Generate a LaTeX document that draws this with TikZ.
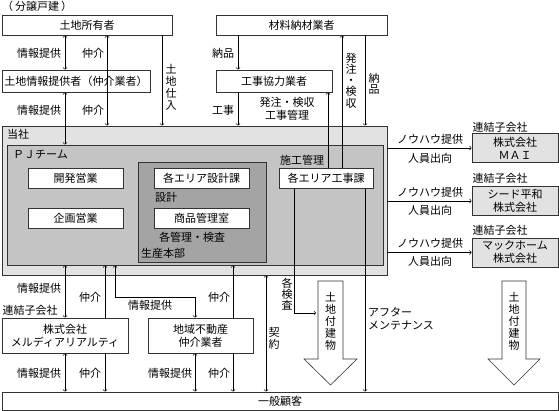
\documentclass[tikz,border=0pt]{standalone}
\usepackage{fontspec}
\setmainfont{Noto Sans CJK JP}
\definecolor{shagray}{HTML}{E2E2E2}
\definecolor{pjgray}{HTML}{C4C4C4}
\definecolor{honbugray}{HTML}{A4A4A4}

\begin{document}
\begin{tikzpicture}[x=1pt, y=-1pt,
        font=\fontsize{11}{13}\selectfont,
        box/.style={rectangle, draw=black!80, line width=0.8pt, fill=white, inner sep=0pt, align=center},
        lbl/.style={inner sep=0pt, align=center},
        vlbl/.style={inner sep=0pt, align=center, font=\fontsize{11}{12}\selectfont},
        conn/.style={line width=0.6pt}]
    \useasboundingbox (0,0) rectangle (559,411);

    % top row
    \node[lbl, anchor=north west] (bunjo) at (2,1) {（\hspace{2pt}分譲戸建\hspace{2pt}）};
    \node[box, minimum width=170pt, minimum height=20pt] (owner) at (87,25) {土地所有者};
    \node[box, minimum width=148pt, minimum height=22pt] (infoprov) at (76,81) {土地情報提供者（仲介業者）};
    \node[box, minimum width=171pt, minimum height=20pt] (zairyo) at (301.5,25) {材料納材業者};
    \node[box, minimum width=116pt, minimum height=22pt] (kyoryoku) at (274,81) {工事協力業者};

    % company
    \node[box, fill=shagray, minimum width=385pt, minimum height=149pt] (tousha) at (194.5,200.5) {};
    \node[box, fill=pjgray, minimum width=376pt, minimum height=120pt] (pj) at (195,205) {};
    \node[box, fill=honbugray, minimum width=128pt, minimum height=100pt] (seisan) at (202,212) {};
    \node[lbl, anchor=west] (toushalbl) at (7,134) {当社};
    \node[lbl, anchor=west] (pjlbl) at (13,155) {ＰＪチーム};
    \node[lbl, anchor=west] (seisanlbl) at (141,253) {生産本部};
    \node[box, minimum width=95pt, minimum height=20pt] (kaihatsu) at (75.5,178) {開発営業};
    \node[box, minimum width=95pt, minimum height=20pt] (kikaku) at (75.5,218) {企画営業};
    \node[box, minimum width=95pt, minimum height=20pt] (sekkei) at (201.5,178) {各エリア設計課};
    \node[box, minimum width=95pt, minimum height=20pt] (shohin) at (201.5,218) {商品管理室};
    \node[lbl] (sekkeilbl) at (166,197) {設計};
    \node[lbl] (kanrilbl) at (192,237) {各管理・検査};
    \node[lbl] (sekolbl) at (302,160) {施工管理};
    \node[box, minimum width=94pt, minimum height=20pt] (koujika) at (326,178.5) {各エリア工事課};

    % subsidiaries
    \node[box, fill=shagray, minimum width=86pt, minimum height=29pt] (mai) at (515,148) {株式会社\\ＭＡＩ};
    \node[box, fill=shagray, minimum width=86pt, minimum height=29pt] (seed) at (515,201) {シード平和\\株式会社};
    \node[box, fill=shagray, minimum width=86pt, minimum height=29pt] (mac) at (515,252.5) {マックホーム\\株式会社};
    \node[lbl] (renketsu1) at (500,127) {連結子会社};
    \node[lbl] (renketsu2) at (500,178) {連結子会社};
    \node[lbl] (renketsu3) at (500,230) {連結子会社};

    % bottom row
    \node[box, minimum width=126pt, minimum height=35pt] (merdia) at (65,335.5) {株式会社\\メルディアリアルティ};
    \node[box, minimum width=105pt, minimum height=35pt] (chiiki) at (200.5,335.5) {地域不動産\\仲介業者};
    \node[lbl] (renketsu4) at (30,310) {連結子会社};
    \node[box, minimum width=556pt, minimum height=18pt] (kokyaku) at (280,401) {一般顧客};

    % big arrows
    \draw[conn, draw=black!80, fill=white] (318,281) -- (343,281) -- (343,359) -- (357,359)
        -- (330.5,385) -- (304,359) -- (318,359) -- cycle;
    \draw[conn, draw=black!80, fill=white] (502,281) -- (526,281) -- (526,359) -- (540,359)
        -- (514,385) -- (488,359) -- (502,359) -- cycle;
    \node[vlbl] (tatemono1) at (330.5,321) {土\\地\\付\\建\\物};
    \node[vlbl] (tatemono2) at (514,321) {土\\地\\付\\建\\物};
    \coordinate (kensaend) at (316,313);

    % top connectors
    \draw[conn, <->] (65,0 |- owner.south) -- (65,0 |- infoprov.north);
    \draw[conn, <->] (107,0 |- owner.south) -- (107,0 |- tousha.north);
    \draw[conn, ->] (162,0 |- owner.south) -- (162,0 |- tousha.north);
    \draw[conn, <->] (65,0 |- infoprov.south) -- (65,0 |- pj.north);
    \node[lbl] (info1) at (39,53) {情報提供};
    \node[lbl] (chukai1) at (93,53) {仲介};
    \node[lbl] (info2) at (39,110) {情報提供};
    \node[lbl] (chukai2) at (93,110) {仲介};
    \node[vlbl] (shiire) at (171,87) {土\\地\\仕\\入};

    \draw[conn, ->] (238,0 |- zairyo.south) -- (238,0 |- kyoryoku.north);
    \draw[conn, ->] (238,0 |- kyoryoku.south) -- (238,0 |- tousha.north);
    \draw[conn, ->] (328,0 |- koujika.north) -- (328,0 |- kyoryoku.south);
    \draw[conn, ->] (342,0 |- koujika.north) -- (342,0 |- zairyo.south);
    \draw[conn, ->] (365,0 |- zairyo.south) -- (365,0 |- tousha.north);
    \node[lbl] (nohin1) at (223,53) {納品};
    \node[lbl] (kouji) at (223,110) {工事};
    \node[lbl] (hacchu1) at (287,109) {発注・検収\\工事管理};
    \node[vlbl, font=\fontsize{11}{11.3}\selectfont] (hacchu2) at (351,80.5) {発\\注\\・\\検\\収};
    \node[vlbl, font=\fontsize{11}{11}\selectfont] (nohin2) at (374,83.5) {納\\品};

    % right connectors
    \draw[conn, ->] (tousha.east |- mai) -- (mai);
    \draw[conn, ->] (tousha.east |- seed) -- (seed);
    \draw[conn, ->] (tousha.east |- mac) -- (mac);
    \node[lbl] (knowhow1) at (430,139) {ノウハウ提供};
    \node[lbl] (shukko1) at (430,158) {人員出向};
    \node[lbl] (knowhow2) at (430,192) {ノウハウ提供};
    \node[lbl] (shukko2) at (430,210) {人員出向};
    \node[lbl] (knowhow3) at (430,243) {ノウハウ提供};
    \node[lbl] (shukko3) at (430,261) {人員出向};

    % bottom connectors
    \draw[conn, <->] (65,0 |- pj.south) -- (65,0 |- merdia.north);
    \draw[conn, <-] (105,0 |- pj.south) -- (105,0 |- merdia.north);
    \draw[conn, ->] (105,0 |- merdia.south) -- (105,0 |- kokyaku.north);
    \draw[conn, <->] (115,0 |- pj.south) |- (195,297) -- (195,0 |- chiiki.north);
    \draw[conn, <-] (233,0 |- pj.south) -- (233,0 |- chiiki.north);
    \draw[conn, ->] (233,0 |- chiiki.south) -- (233,0 |- kokyaku.north);
    \draw[conn, <->] (266,0 |- tousha.south) -- (266,0 |- kokyaku.north);
    \draw[conn, <->] (65,0 |- merdia.south) -- (65,0 |- kokyaku.north);
    \draw[conn, <->] (195,0 |- chiiki.south) -- (195,0 |- kokyaku.north);
    \draw[conn, ->] (294,0 |- koujika.south) |- (kensaend);
    \draw[conn, ->] (365,0 |- koujika.south) -- (365,0 |- kokyaku.north);
    \node[lbl] (info3) at (39,288) {情報提供};
    \node[lbl] (chukai3) at (90,297) {仲介};
    \node[lbl] (info4) at (150,305) {情報提供};
    \node[lbl] (chukai4) at (219,297) {仲介};
    \node[lbl] (info5) at (39,373) {情報提供};
    \node[lbl] (chukai5) at (90,373) {仲介};
    \node[lbl] (info6) at (170,373) {情報提供};
    \node[lbl] (chukai6) at (219,373) {仲介};
    \node[vlbl] (keiyaku) at (274,338) {契\\約};
    \node[vlbl, font=\fontsize{11}{11}\selectfont] (kensa) at (287,294) {各\\検\\査};
    \node[lbl, anchor=west, align=left] (after) at (368,319) {アフター\\メンテナンス};
\end{tikzpicture}
\end{document}
